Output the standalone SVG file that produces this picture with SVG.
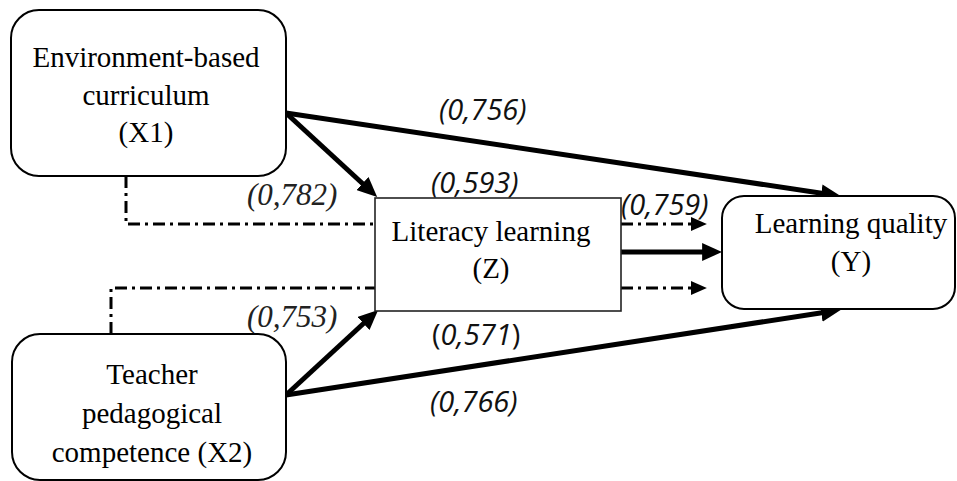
<svg xmlns="http://www.w3.org/2000/svg" width="957" height="481" viewBox="0 0 957 481">
<style>
.box{fill:#fff;stroke:#000;stroke-width:2}
.rbox{fill:#fff;stroke:#222;stroke-width:1.6}
.nt{font-family:"Liberation Serif","Times New Roman",serif;font-size:29px;fill:#000;text-anchor:middle}
.ls{font-family:"Open Sans","Noto Sans",sans-serif;font-style:italic;font-size:29px;fill:#111}
.lt{font-family:"Liberation Serif","Times New Roman",serif;font-style:italic;font-size:31px;fill:#222}
.up{font-style:normal}
.thick{stroke:#000;stroke-width:5;fill:none}
.dd{stroke:#000;stroke-width:3;fill:none;stroke-dasharray:12 5 3 5}
</style>
<defs>
<marker id="ah" markerUnits="userSpaceOnUse" markerWidth="20" markerHeight="18" refX="8" refY="8" orient="auto" viewBox="0 0 18 16">
<path d="M0,0 L18,8 L0,16 z" fill="#000"/>
</marker>
<marker id="sh" markerUnits="userSpaceOnUse" markerWidth="16" markerHeight="14" refX="2" refY="6.5" orient="auto" viewBox="0 0 15 13">
<path d="M0,0 L15,6.5 L0,13 z" fill="#000"/>
</marker>
</defs>
<g id="connectors">
<line class="thick" x1="286" y1="113" x2="830" y2="194.5" marker-end="url(#ah)"/>
<line class="thick" x1="286" y1="113" x2="369" y2="189.5" marker-end="url(#ah)"/>
<line class="thick" x1="621" y1="252" x2="711" y2="252" marker-end="url(#ah)"/>
<line class="thick" x1="286" y1="395" x2="370" y2="317.5" marker-end="url(#ah)"/>
<line class="thick" x1="286" y1="395" x2="830" y2="311.5" marker-end="url(#ah)"/>
<path class="dd" d="M126,176 V224 H375"/>
<path class="dd" d="M111,334 V288 H375"/>
<line class="dd" x1="621" y1="224" x2="693" y2="224" marker-end="url(#sh)"/>
<line class="dd" x1="621" y1="288" x2="693" y2="288" marker-end="url(#sh)"/>
</g>
<g id="node-x1">
<rect class="box" x="11" y="10" width="275" height="166" rx="28"/>
<text class="nt" x="146" y="67">Environment-based</text>
<text class="nt" x="146" y="105">curriculum</text>
<text class="nt" x="146" y="142">(X1)</text>
</g>
<g id="node-x2">
<rect class="box" x="12" y="334" width="274" height="146" rx="28"/>
<text class="nt" x="152" y="384">Teacher</text>
<text class="nt" x="152" y="423">pedagogical</text>
<text class="nt" x="152" y="462">competence (X2)</text>
</g>
<g id="node-z">
<rect class="rbox" x="375" y="198" width="246" height="113"/>
<text class="nt" x="491" y="241">Literacy learning</text>
<text class="nt" x="491" y="278">(Z)</text>
</g>
<g id="node-y">
<rect class="box" x="722" y="196" width="233" height="113" rx="22"/>
<text class="nt" x="851" y="233">Learning quality</text>
<text class="nt" x="851" y="271">(Y)</text>
</g>
<g id="labels">
<text class="ls" x="439" y="120">(0,756)</text>
<text class="ls" x="431" y="193">(0,593)</text>
<text class="ls" x="621" y="215">(0,759)</text>
<text class="lt" x="247" y="205" font-family="Liberation Serif, serif">(0,782)</text>
<text class="lt" x="247" y="327" font-family="Liberation Serif, serif">(0,753)</text>
<text class="ls" x="432" y="345"><tspan class="up">(</tspan>0,571<tspan class="up">)</tspan></text>
<text class="ls" x="430" y="412">(0,766)</text>
</g>
</svg>
